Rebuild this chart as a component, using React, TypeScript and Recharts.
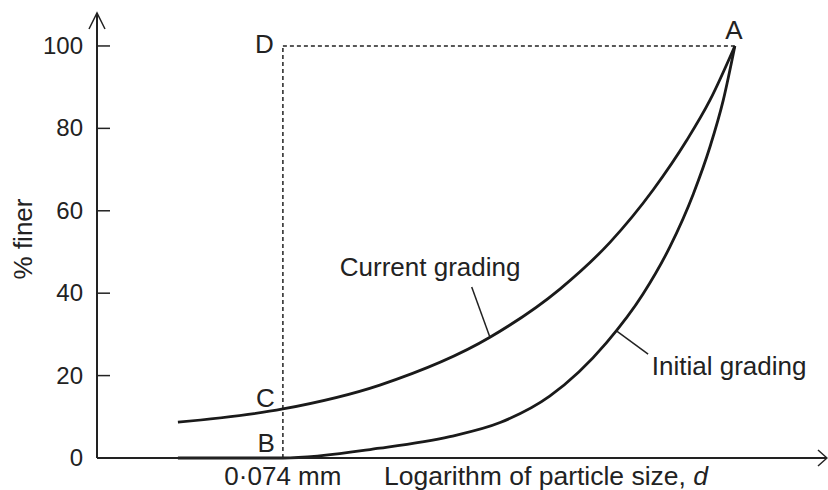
import { LineChart, Line, XAxis, YAxis, ReferenceLine, ReferenceDot, Label } from "recharts";

// log particle size (arbitrary units along the axis) vs % finer
const sizeCurrent = [11.1, 25.5, 38.8, 53.9, 63.5, 70.4, 76.3, 80.9, 84.1, 87.5];
const finerCurrent = [8.7, 11.9, 17.7, 29.3, 41, 52.4, 65.1, 77.1, 86.9, 100];
const sizeInitial = [11.1, 25.5, 38.8, 48.4, 55.3, 62.1, 69.9, 74.9, 78.6, 81.8, 84.1, 85.9, 87.5];
const finerInitial = [0, 0, 2.4, 5.2, 8.6, 15, 28, 39.8, 51.3, 64.1, 75.6, 86.8, 100];

const yTicks = [0, 20, 40, 60, 80, 100];
const sieveSize = 25.5; // 0.074 mm
const sieveLabel = "0·074 mm";
const maxSize = 87.5; // point A

const currentData = sizeCurrent.map((x, i) => ({ x, y: finerCurrent[i] }));
const initialData = sizeInitial.map((x, i) => ({ x, y: finerInitial[i] }));

const INK = "#222";
const FONT = "'Liberation Sans', Arial, sans-serif";

const YTick = (props: any) => {
  const { x, y, payload } = props;
  return (
    <g>
      <line x1={x} y1={y} x2={x + 13} y2={y} stroke={INK} strokeWidth={1.5} />
      <text x={x - 14} y={y + 8} textAnchor="end" fontSize={24} fill={INK} fontFamily={FONT}>
        {payload.value}
      </text>
    </g>
  );
};

const textShape = (label: string, dx: number, dy: number, anchor: string = "end") => (p: any) => (
  <text x={p.cx + dx} y={p.cy + dy} textAnchor={anchor} fontSize={26} fill={INK} fontFamily={FONT}>
    {label}
  </text>
);

export default function App() {
  return (
    <div style={{ position: "absolute", left: 0, top: 0, width: 828, height: 490, background: "#fff" }}>
      <LineChart width={828} height={490} margin={{ top: 13, right: 2, bottom: 0, left: 0 }}>
        <XAxis
          type="number"
          dataKey="x"
          domain={[0, 100]}
          ticks={[sieveSize]}
          tickFormatter={() => sieveLabel}
          tickLine={false}
          tickSize={0}
          tickMargin={9}
          height={32}
          axisLine={{ stroke: INK, strokeWidth: 2 }}
          tick={{ fontSize: 26, fill: INK, fontFamily: FONT }}
        >
          <Label
            content={(p: any) => (
              <text x={p.viewBox.x + 287} y={p.viewBox.y + 27} fontSize={26.5} fill={INK} fontFamily={FONT}>
                Logarithm of particle size, <tspan fontStyle="italic">d</tspan>
              </text>
            )}
          />
        </XAxis>
        <YAxis
          type="number"
          domain={[0, 108]}
          ticks={yTicks}
          width={97}
          tickLine={false}
          tickSize={0}
          tickMargin={0}
          axisLine={{ stroke: INK, strokeWidth: 2 }}
          tick={<YTick />}
        >
          <Label
            content={() => (
              <text
                x={32}
                y={239}
                transform="rotate(-90 32 239)"
                textAnchor="middle"
                fontSize={26}
                fill={INK}
                fontFamily={FONT}
              >
                % finer
              </text>
            )}
          />
        </YAxis>

        <ReferenceLine
          segment={[{ x: sieveSize, y: 0 }, { x: sieveSize, y: 100 }]}
          stroke={INK}
          strokeWidth={1.5}
          strokeDasharray="4 3"
          ifOverflow="visible"
        />
        <ReferenceLine
          segment={[{ x: sieveSize, y: 100 }, { x: maxSize, y: 100 }]}
          stroke={INK}
          strokeWidth={1.5}
          strokeDasharray="4 3"
          ifOverflow="visible"
        />

        <Line data={currentData} dataKey="y" type="monotone" stroke="#1a1a1a" strokeWidth={2.8} dot={false} isAnimationActive={false} />
        <Line data={initialData} dataKey="y" type="monotone" stroke="#1a1a1a" strokeWidth={2.8} dot={false} isAnimationActive={false} />

        {/* leader lines */}
        <ReferenceLine segment={[{ x: 51.4, y: 41.5 }, { x: 53.9, y: 29.3 }]} stroke={INK} strokeWidth={1.5} ifOverflow="visible" />
        <ReferenceLine segment={[{ x: 71.3, y: 30.8 }, { x: 75.6, y: 25.2 }]} stroke={INK} strokeWidth={1.5} ifOverflow="visible" />

        {/* point and curve labels */}
        <ReferenceDot x={sieveSize} y={100} r={0} ifOverflow="visible" shape={textShape("D", -9, 7)} />
        <ReferenceDot x={sieveSize} y={finerCurrent[1]} r={0} ifOverflow="visible" shape={textShape("C", -8, -2)} />
        <ReferenceDot x={sieveSize} y={0} r={0} ifOverflow="visible" shape={textShape("B", -8, -6)} />
        <ReferenceDot x={maxSize} y={100} r={0} ifOverflow="visible" shape={textShape("A", -1, -7, "middle")} />
        <ReferenceDot x={33.3} y={44.2} r={0} ifOverflow="visible" shape={textShape("Current grading", 0, 0, "start")} />
        <ReferenceDot x={76.1} y={20.1} r={0} ifOverflow="visible" shape={textShape("Initial grading", 0, 0, "start")} />

        {/* axis arrowheads */}
        <ReferenceDot
          x={0}
          y={108}
          r={0}
          ifOverflow="visible"
          shape={(p: any) => (
            <path d={`M${p.cx - 8},${p.cy + 16} L${p.cx},${p.cy} L${p.cx + 8},${p.cy + 16}`} fill="none" stroke={INK} strokeWidth={1.5} />
          )}
        />
        <ReferenceDot
          x={100}
          y={0}
          r={0}
          ifOverflow="visible"
          shape={(p: any) => (
            <path d={`M${p.cx - 8},${p.cy - 8} L${p.cx + 1},${p.cy} L${p.cx - 8},${p.cy + 8}`} fill="none" stroke={INK} strokeWidth={1.5} />
          )}
        />
      </LineChart>
    </div>
  );
}
